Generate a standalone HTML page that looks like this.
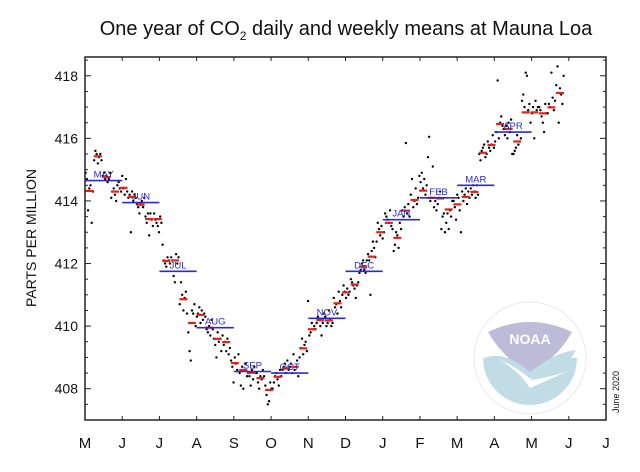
<!DOCTYPE html>
<html><head><meta charset="utf-8"><style>
html,body{margin:0;padding:0;background:#fff;}
svg{display:block;font-family:"Liberation Sans",Arial,sans-serif;}
</style></head><body>
<svg id="chart" width="640" height="472" viewBox="0 0 640 472">
<text x="346" y="35" text-anchor="middle" font-size="20" fill="#111">One year of CO<tspan font-size="12" dy="5">2</tspan><tspan dy="-5"> daily and weekly means at Mauna Loa</tspan></text>
<text transform="translate(36,238) rotate(-90)" text-anchor="middle" font-size="14" fill="#111">PARTS PER MILLION</text>
<g opacity="0.85">
<circle cx="530" cy="358" r="56" fill="#fff" stroke="#e4e4ee" stroke-width="1"/>
<path d="M483 358 A47 47 0 0 0 577 358 Z" fill="#b7d6e0"/>
<path d="M488 332 Q530 312 572 332 Q556 360 530 372 Q504 360 488 332 Z" fill="#b2b0d2"/>
<path d="M484 358 Q505 350 530 372 Q555 352 576 350 Q560 380 530 385 Q505 378 484 358 Z" fill="#b7d6e0"/>
<path d="M500 360 Q520 372 530 388 L566 372 Q545 378 532 380 Q515 366 500 360 Z" fill="#fff"/>
<text x="530" y="344" text-anchor="middle" font-size="14" font-weight="bold" fill="#fff">NOAA</text>
</g>
<text transform="translate(619,392) rotate(-90)" text-anchor="middle" font-size="9" fill="#111">June 2020</text>
<g id="plot"></g>
</svg>
<script>
const monthLabels=["M","J","J","A","S","O","N","D","J","F","M","A","M","J","J"];
const yTicks=[408,410,412,414,416,418];
const monthNames=["MAY","JUN","JUL","AUG","SEP","OCT","NOV","DEC","JAN","FEB","MAR","APR"];
const monthlyMeans=[414.65,413.95,411.75,409.95,408.55,408.5,410.25,411.75,413.4,414.1,414.5,416.2];
const weeklyMeans=[414.32,415.43,414.76,414.3,414.42,414.13,413.88,413.42,413.42,412.08,412.1,410.86,410.1,410.36,409.95,409.59,409.49,408.82,408.6,408.51,408.34,407.96,408.38,408.65,408.7,409.29,409.9,410.19,410.18,410.73,411.08,411.33,411.9,412.22,413.0,413.3,412.82,413.69,414.03,414.33,414.1,414.08,413.73,413.89,414.13,414.29,415.54,415.79,416.46,416.3,415.9,416.83,416.83,416.8,416.99,417.45];
const dailyValues=[
414.9,414.7,413.7,414.4,414.5,413.3,414.3,
415.3,415.6,415.5,415.2,415.4,415.5,415.3,
414.8,414.9,414.7,414.8,414.6,414.7,414.9,
414.1,414.3,414.4,414.2,414.0,414.5,414.6,
414.4,414.3,414.8,414.4,414.2,414.7,414.3,
414.1,414.2,413.0,414.3,414.0,414.2,414.1,
413.9,413.8,413.6,413.9,414.0,413.8,414.1,
413.5,413.3,413.6,412.9,413.6,413.4,413.2,
413.6,413.4,413.3,413.2,413.0,413.5,413.3,
412.6,412.1,412.0,411.9,412.2,412.1,412.0,
412.2,412.1,411.6,411.4,412.3,412.0,412.2,
410.7,411.4,411.0,410.5,410.9,411.1,410.4,
409.8,409.2,408.9,410.5,410.4,410.7,410.0,
410.3,410.4,410.6,410.1,410.5,410.2,410.4,
410.3,409.9,409.8,410.0,409.7,410.2,409.9,
409.6,409.4,409.0,409.8,409.5,409.6,409.2,
409.7,409.4,409.5,409.2,409.6,409.1,409.3,
408.9,408.7,408.2,409.0,408.8,408.6,409.1,
408.5,408.1,408.7,408.0,408.6,408.8,408.4,
408.5,408.4,408.1,408.6,408.3,408.7,408.5,
408.5,408.2,408.0,408.4,408.3,408.6,408.4,
408.1,407.8,407.5,407.6,408.2,408.0,408.0,
408.2,408.4,408.5,408.3,408.1,408.6,408.4,
408.6,408.7,408.8,408.5,408.9,408.6,408.7,
408.8,408.5,409.1,408.6,408.7,408.9,408.4,
409.0,409.3,409.6,409.1,409.4,409.5,409.2,
410.8,409.7,409.8,410.1,409.9,410.0,409.9,
410.1,410.3,410.2,410.0,409.7,410.1,410.4,
410.3,410.0,410.1,410.5,410.2,410.0,410.1,
410.9,410.6,410.7,410.4,411.1,410.8,410.6,
411.0,411.3,411.1,410.9,411.2,411.0,411.1,
411.5,411.4,411.3,411.2,410.9,411.3,411.4,
411.7,411.8,412.0,412.1,411.8,411.7,412.1,
412.3,412.1,411.0,412.4,412.7,412.5,412.2,
412.7,413.3,413.1,412.9,413.2,412.8,413.0,
413.6,413.5,413.4,413.3,413.7,413.2,413.1,
412.4,412.6,413.0,412.9,412.5,413.3,413.1,
413.7,413.5,413.8,415.85,413.6,413.9,413.5,
414.2,414.7,413.8,414.0,414.4,413.9,414.1,
414.8,414.6,414.9,414.4,414.7,414.2,414.5,
415.4,416.05,414.0,414.1,415.1,413.8,414.0,
413.7,413.9,414.1,414.3,413.1,413.5,413.6,
413.0,413.3,413.6,413.1,413.7,413.5,414.0,
414.0,413.8,413.4,414.2,414.1,413.7,413.0,
414.3,414.0,414.2,414.4,413.9,414.3,414.1,
414.4,414.2,414.5,414.3,414.1,414.5,414.2,
415.5,415.3,415.6,415.7,415.8,415.4,415.5,
415.9,415.7,415.6,415.8,416.1,415.7,415.9,
416.2,417.85,416.0,416.5,416.7,416.4,416.3,
416.1,416.4,416.0,416.5,416.2,416.6,415.5,
415.5,415.6,415.7,416.1,415.8,415.9,416.0,
417.2,417.4,417.0,418.1,418.0,416.9,417.1,
416.5,416.8,417.0,416.0,417.2,416.9,417.0,
417.0,416.9,416.7,416.5,416.2,417.1,416.8,
416.8,417.1,417.0,418.1,417.3,416.9,417.2,
417.7,418.3,416.5,417.6,417.4,417.1,418.0];

const NS="http://www.w3.org/2000/svg";
const L=85,R=606,T=57,B=420;
const Y0=407.0,Y1=418.6;
const DAYS_PER_MONTH=30.44;
function xMonth(m){return L+m*(R-L)/14;}
function xDay(d){return xMonth(d/DAYS_PER_MONTH);}
function yVal(v){return B-(v-Y0)*(B-T)/(Y1-Y0);}
const g=document.getElementById('plot');
function mk(tag,attrs){const e=document.createElementNS(NS,tag);for(const k in attrs)e.setAttribute(k,attrs[k]);g.appendChild(e);return e;}

dailyValues.forEach((v,i)=>{
  const c=mk('circle',{cx:xDay(i+0.5).toFixed(2),cy:yVal(v).toFixed(2),r:1.2,fill:'#000'});
  
  
});
weeklyMeans.forEach((v,i)=>{
  const xc=xDay(i*7+3.5), y=yVal(v);
  const l=mk('line',{x1:(xc-4).toFixed(2),x2:(xc+4).toFixed(2),y1:y,y2:y,stroke:'#e8201a','stroke-width':2.2});
  
  
});
monthlyMeans.forEach((v,i)=>{
  const y=yVal(v);
  const l=mk('line',{x1:xMonth(i),x2:xMonth(i+1),y1:y,y2:y,stroke:'#2b2bd0','stroke-width':1.6});
  
  
  const t=mk('text',{x:(xMonth(i)+xMonth(i+1))/2,y:y-3,'text-anchor':'middle','font-size':9.5,fill:'#2b2bd0'});
  t.textContent=monthNames[i];
  
  
});
const fr=mk('rect',{x:L,y:T,width:R-L,height:B-T,fill:'none',stroke:'#222','stroke-width':1.5});


for(let v=Math.ceil(Y0*2)/2;v<=Y1;v+=0.5){
  const major=Math.abs(v-Math.round(v/2)*2)<1e-6;
  const len=major?6:3, y=yVal(v);
  mk('line',{x1:L,x2:L+len,y1:y,y2:y,stroke:'#222','stroke-width':1});
  mk('line',{x1:R,x2:R-len,y1:y,y2:y,stroke:'#222','stroke-width':1});
}
yTicks.forEach(v=>{
  const t=mk('text',{x:L-7,y:yVal(v)+5,'text-anchor':'end','font-size':14,fill:'#111'});
  t.textContent=v;
  
  
});
monthLabels.forEach((m,i)=>{
  const x=xMonth(i);
  mk('line',{x1:x,x2:x,y1:B,y2:B-4,stroke:'#222','stroke-width':1});
  mk('line',{x1:x,x2:x,y1:T,y2:T+4,stroke:'#222','stroke-width':1});
  const t=mk('text',{x:x,y:448,'text-anchor':'middle','font-size':15,fill:'#111'});
  t.textContent=m;
  
  
});
</script>
</body></html>
